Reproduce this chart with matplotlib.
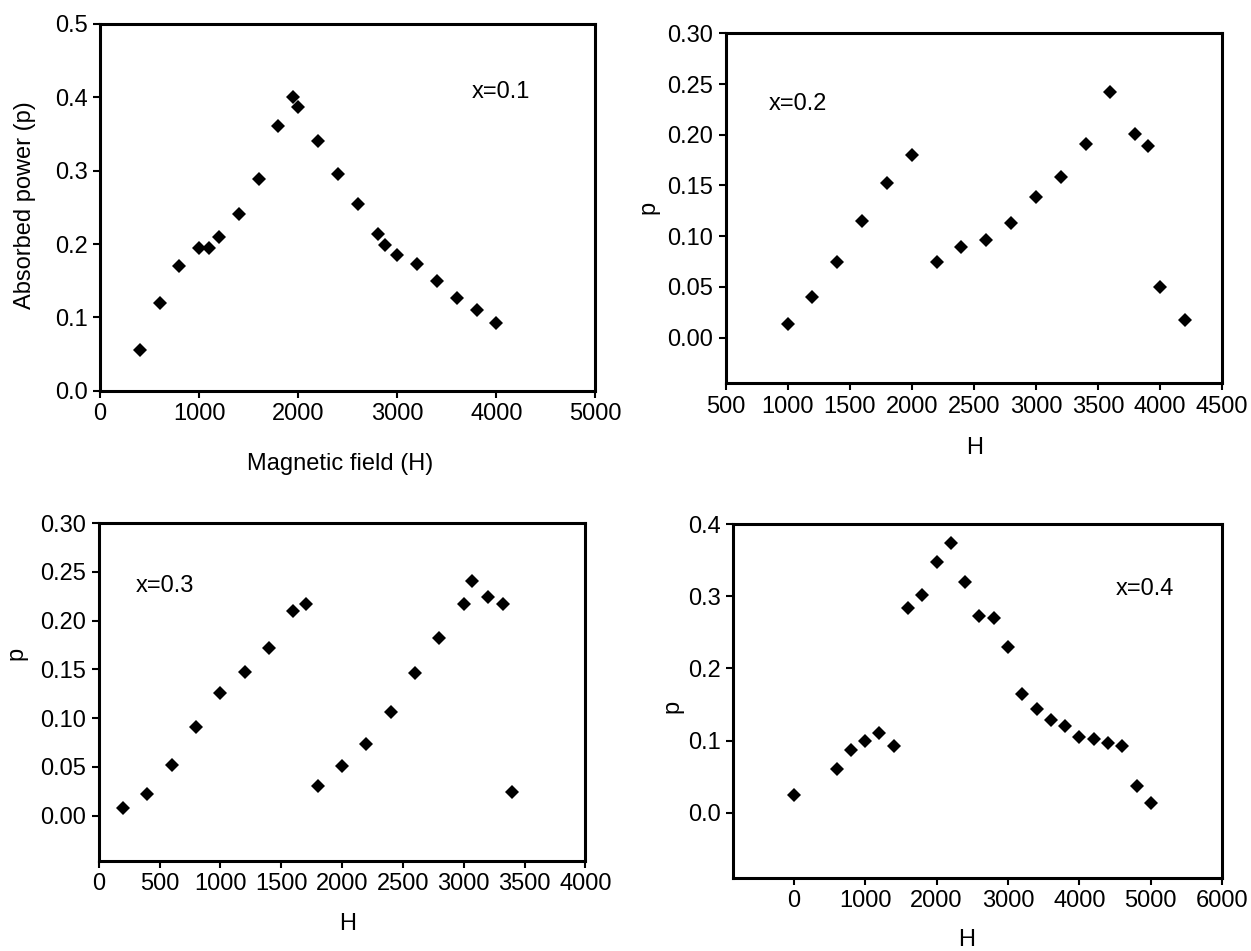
import matplotlib
matplotlib.use("Agg")
import matplotlib.pyplot as plt
import numpy as np

plt.rcParams["font.family"] = ["Liberation Sans", "DejaVu Sans"]
plt.rcParams["font.size"] = 17

# x = 0.1
h1 = [400, 600, 800, 1000, 1100, 1200, 1400, 1600, 1800, 1950, 2000, 2200,
      2400, 2600, 2800, 2880, 3000, 3200, 3400, 3600, 3800, 4000]
p1 = [0.056, 0.120, 0.170, 0.195, 0.195, 0.210, 0.241, 0.289, 0.361, 0.400,
      0.386, 0.341, 0.296, 0.255, 0.213, 0.198, 0.185, 0.173, 0.149, 0.126,
      0.110, 0.093]

# x = 0.2
h2 = [1000, 1200, 1400, 1600, 1800, 2000, 2200, 2400, 2600, 2800, 3000, 3200,
      3400, 3600, 3800, 3900, 4000, 4200]
p2 = [0.013, 0.040, 0.075, 0.115, 0.152, 0.180, 0.075, 0.089, 0.096, 0.113,
      0.139, 0.158, 0.191, 0.242, 0.201, 0.189, 0.050, 0.017]

# x = 0.3
h3 = [200, 400, 600, 800, 1000, 1200, 1400, 1600, 1700, 1800, 2000, 2200,
      2400, 2600, 2800, 3000, 3070, 3200, 3320, 3400]
p3 = [0.008, 0.022, 0.052, 0.091, 0.126, 0.147, 0.172, 0.210, 0.217, 0.031,
      0.051, 0.074, 0.106, 0.146, 0.182, 0.217, 0.241, 0.224, 0.217, 0.024]

# x = 0.4
h4 = [0, 600, 800, 1000, 1200, 1400, 1600, 1800, 2000, 2200, 2400, 2600,
      2800, 3000, 3200, 3400, 3600, 3800, 4000, 4200, 4400, 4600, 4800, 5000]
p4 = [0.025, 0.060, 0.087, 0.100, 0.111, 0.093, 0.283, 0.301, 0.347, 0.374,
      0.319, 0.273, 0.270, 0.229, 0.165, 0.144, 0.129, 0.120, 0.105, 0.102,
      0.096, 0.093, 0.037, 0.014]

fig = plt.figure(figsize=(12.51, 9.51), dpi=100)

panels = [
    # rect, x, y, tag, tag pos, xlim, ylim, xticks, yticks, fmt, xlabel, ylabel, xlabel pos, ylabel pos
    ([0.080, 0.589, 0.396, 0.386], h1, p1, "x=0.1", (4050, 0.407),
     (0, 5000), (0, 0.5), np.arange(0, 5001, 1000), np.arange(0, 0.51, 0.1), "%.1f",
     "Magnetic field (H)", "Absorbed power (p)", (0.484, -0.20), (-0.151, 0.507)),
    ([0.580, 0.597, 0.397, 0.368], h2, p2, "x=0.2", (1080, 0.230),
     (500, 4500), (-0.045, 0.30), np.arange(500, 4501, 500), np.arange(0, 0.301, 0.05), "%.2f",
     "H", "p", (0.502, -0.186), (-0.155, 0.503)),
    ([0.079, 0.095, 0.389, 0.355], h3, p3, "x=0.3", (540, 0.235),
     (0, 4000), (-0.046, 0.30), np.arange(0, 4001, 500), np.arange(0, 0.301, 0.05), "%.2f",
     "H", "p", (0.511, -0.189), (-0.170, 0.615)),
    ([0.586, 0.077, 0.391, 0.372], h4, p4, "x=0.4", (4920, 0.31),
     (-850, 6000), (-0.09, 0.40), np.arange(0, 6001, 1000), np.arange(0, 0.41, 0.1), "%.1f",
     "H", "p", (0.478, -0.175), (-0.125, 0.483)),
]

for (rect, hx, py, tag, tpos, xl, yl, xt, yt, fmt, xlab, ylab, xlp, ylp) in panels:
    ax = fig.add_axes(rect)
    ax.plot(hx, py, "D", color="black", markersize=7.5, markeredgewidth=0)
    ax.set_xlim(*xl)
    ax.set_ylim(*yl)
    ax.set_xticks(xt)
    ax.set_yticks(yt)
    ax.set_yticklabels([fmt % v for v in yt])
    ax.tick_params(direction="out", length=5, width=1.5, pad=4)
    for s in ax.spines.values():
        s.set_linewidth(2.2)
    ax.text(tpos[0], tpos[1], tag, ha="center", va="center")
    ax.set_xlabel(xlab)
    ax.set_ylabel(ylab)
    ax.xaxis.set_label_coords(*xlp)
    ax.yaxis.set_label_coords(*ylp)
    ax.xaxis.label.set_va("center")
    ax.yaxis.label.set_va("center")

fig.savefig("out.png", dpi=100)
